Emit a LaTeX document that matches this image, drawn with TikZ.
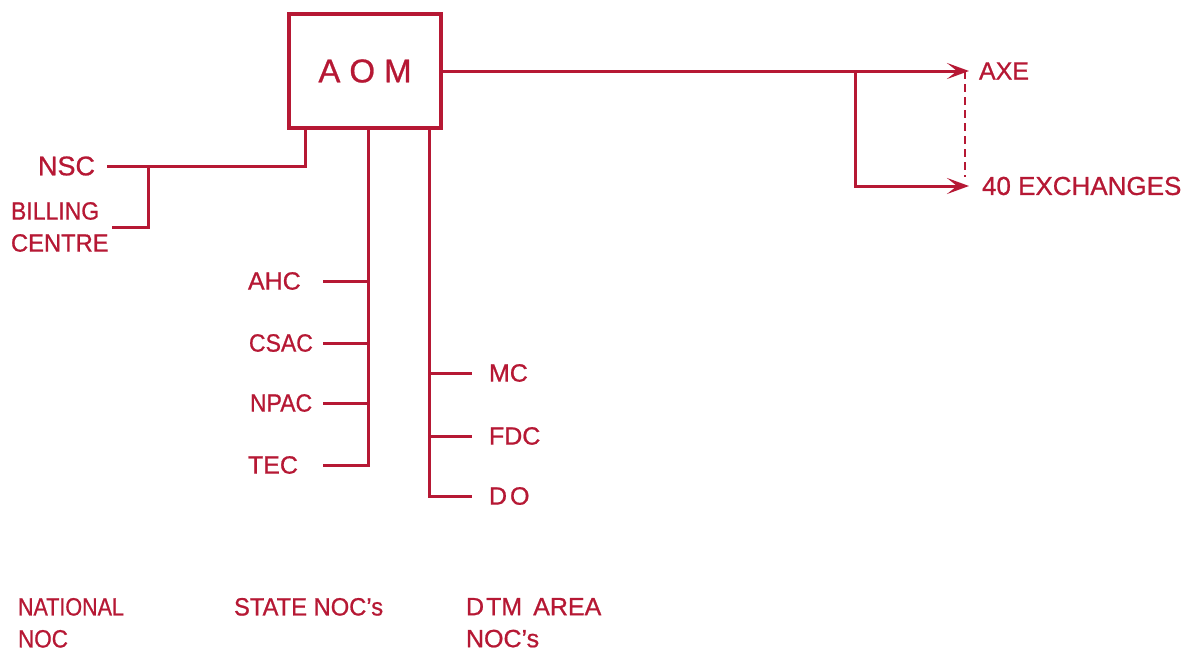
\documentclass[tikz,border=0pt]{standalone}
\usepackage{fontspec}
\setmainfont[FakeBold=0.8]{Liberation Sans}
\usetikzlibrary{arrows.meta}
\definecolor{ink}{RGB}{182,24,52}
\begin{document}
\begin{tikzpicture}[x=1pt,y=-1pt,line width=3pt,draw=ink,
  lbl/.style={text=ink,inner sep=0pt,outer sep=0pt,font=\fontsize{25}{32}\selectfont},
  big/.style={lbl,font=\fontsize{27}{32}\selectfont},
  tip/.style={-{Stealth[length=22pt,width=16pt,inset=10pt]}},
  dsh/.style={line width=2.2pt,dash pattern=on 8pt off 5pt}]
\useasboundingbox[fill=white] (0,0) rectangle (1202,653);
% main box
\node[draw,line width=4pt,minimum width=152pt,minimum height=114pt,inner sep=0pt,outer sep=0pt,text=ink,
  font=\fontsize{33}{33}\selectfont] (aom) at (365,71) {A\hspace{9pt}O\hspace{9pt}M};
% right side
\node[lbl,anchor=west,outer xsep=10pt] (axe) at (969,71) {AXE};
\node[lbl,anchor=west,outer xsep=13pt,font=\fontsize{26}{32}\selectfont] (exch) at (969,186) {40 EXCHANGES};
\coordinate (br) at (855,71);
\draw[tip] (aom.east) -- (axe.west);
\draw[tip] (br) |- (exch.west);
\draw[dsh] ([xshift=-4pt]axe.west) -- ([xshift=-4pt,yshift=9pt]exch.west);
% NSC / billing
\node[big,anchor=east,outer xsep=12pt] (nsc) at (107,166) {NSC};
\node[lbl,anchor=west,align=left,outer xsep=3pt] (bill) at (8,227) {\scalebox{0.92}[1]{BILLING}\\\scalebox{0.95}[1]{CENTRE}};
\coordinate (nscj) at (148,166);
\draw ([xshift=-60pt]aom.south) |- (nsc.east);
\draw (nscj) |- (bill.east);
% state NOCs
\coordinate (v1) at ([xshift=3pt]aom.south);
\coordinate (t1) at (323,0);
\node[lbl,anchor=west] (ahc) at (248,281) {AHC};
\node[lbl,anchor=west] (csac) at (249,343) {\scalebox{0.92}[1]{CSAC}};
\node[lbl,anchor=west] (npac) at (250,403) {\scalebox{0.92}[1]{NPAC}};
\node[lbl,anchor=west] (tec) at (248,465) {TEC};
\draw (v1) -- (v1 |- tec.east) -- (tec.east -| t1);
\draw (ahc.east -| t1) -- (ahc.east -| v1);
\draw (csac.east -| t1) -- (csac.east -| v1);
\draw (npac.east -| t1) -- (npac.east -| v1);
% DTM area NOCs
\coordinate (v2) at ([xshift=64pt]aom.south);
\node[lbl,anchor=west,outer xsep=17pt] (mc) at (472,373) {MC};
\node[lbl,anchor=west,outer xsep=17pt] (fdc) at (472,436) {FDC};
\node[lbl,anchor=west,outer xsep=17pt] (do) at (472,496) {D\hspace{3pt}O};
\draw (v2) |- (do.west);
\draw (v2 |- mc.west) -- (mc.west);
\draw (v2 |- fdc.west) -- (fdc.west);
% bottom captions
\node[lbl,anchor=north west,align=left] (nat) at (18,598) {\scalebox{0.86}[1]{NATIONAL}\\\scalebox{0.9}[1]{NOC}};
\node[lbl,anchor=north west] (state) at (234,598) {\scalebox{0.95}[1]{STATE NOC's}};
\node[lbl,anchor=north west,align=left] (dtm) at (466,598) {D\hspace{2pt}TM\ \,AREA\\NOC's};
\end{tikzpicture}
\end{document}
